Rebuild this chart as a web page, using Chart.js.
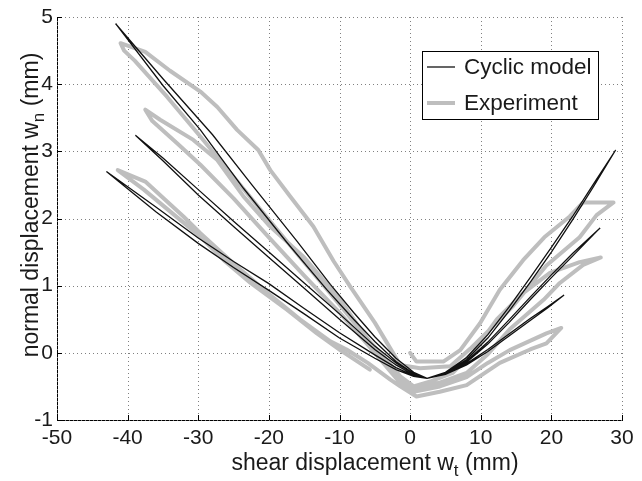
<!DOCTYPE html>
<html>
<head>
<meta charset="utf-8">
<script src="https://cdn.jsdelivr.net/npm/chart.js@4.4.1/dist/chart.umd.min.js"></script>
<style>
  html, body { margin: 0; padding: 0; background: #fff; }
  #wrap { width: 642px; height: 481px; }
</style>
</head>
<body>
<div id="wrap"><canvas id="c"></canvas></div>
<script>
// axis ticks
const xTicks = [-50, -40, -30, -20, -10, 0, 10, 20, 30];
const yTicks = [-1, 0, 1, 2, 3, 4, 5];

// cyclic model: shear wt / normal wn (mm), traced branch by branch
const modelWt = [
  2.4, 0.5, -2, -5, -10, -15, -20, -25, -30, -36, -43,
  -36, -30, -25, -20, -15, -10, -5, -2, 0.5, 2.4,
  5, 8, 11, 14, 17, 19.5, 21.8,
  19.5, 17, 14, 11, 8, 5, 2.4,
  0.5, -2, -5, -10, -15, -20, -25, -30, -35, -38.9,
  -35, -30, -25, -20, -15, -10, -5, -2, 0.5, 2.4,
  5, 8, 11, 14, 17, 20, 23, 26.9,
  23, 20, 17, 14, 11, 8, 5, 2.4,
  0.5, -2, -5, -8, -11.8, -17.5, -23.6, -29.7, -35, -41.7,
  -35, -28, -22.4, -16, -11.3, -8, -5, -2, 0.5, 2.4,
  5, 8, 11, 14, 17, 20, 23, 26, 29.1,
  26, 23, 20, 17, 14, 11, 8, 5, 2.4
];
const modelWn = [
  -0.38, -0.35, -0.25, -0.08, 0.22, 0.58, 0.93, 1.27, 1.63, 2.1, 2.7,
  2.17, 1.71, 1.36, 1.03, 0.66, 0.3, -0.03, -0.22, -0.34, -0.38,
  -0.31, -0.16, 0.05, 0.28, 0.51, 0.69, 0.86,
  0.67, 0.48, 0.25, 0.02, -0.18, -0.32, -0.38,
  -0.33, -0.18, 0.05, 0.5, 0.96, 1.42, 1.88, 2.35, 2.86, 3.24,
  2.9, 2.43, 1.96, 1.5, 1.04, 0.58, 0.1, -0.15, -0.31, -0.38,
  -0.3, -0.12, 0.16, 0.49, 0.83, 1.16, 1.48, 1.86,
  1.44, 1.12, 0.79, 0.45, 0.13, -0.14, -0.31, -0.38,
  -0.31, -0.13, 0.17, 0.5, 0.94, 1.65, 2.45, 3.32, 3.98, 4.9,
  4.08, 3.25, 2.5, 1.66, 1.02, 0.6, 0.24, -0.08, -0.29, -0.38,
  -0.29, -0.07, 0.27, 0.68, 1.12, 1.57, 2.03, 2.52, 3.02,
  2.48, 1.98, 1.5, 1.05, 0.62, 0.22, -0.1, -0.3, -0.38
];

// experiment: shear wt / normal wn (mm)
const expWt = [
  0, 0.9, 4.7, 7.1, 9.9, 12.7, 16, 19, 22.6, 24.5, 28.8,
  26.4, 24, 19.3, 14.6, 11.3, 8.5, 5.7, 1.4, -1.4,
  -3, -5, -8.5, -10.8, -13.7, -17, -19.8, -21.5, -24.5, -27.3, -29.7, -34, -37.5, -41,
  -40.5, -39, -34.4, -29.7, -25, -20, -15, -10, -6, -3, -1.4, 0.5,
  3, 6, 9, 12.3, 16, 19.8, 24, 27,
  24.5, 21.2, 18.9, 14.1, 11, 8, 4, 0.5, -1.4,
  -4, -7, -9.9, -15, -20, -23.6, -27.3, -30.7, -35.4, -37.5,
  -36.5, -33, -29.7, -25, -20, -15, -10, -6, -3, -1.4, 0.5,
  4.2, 8, 11, 14.1, 19.3, 21.4,
  19.3, 17, 12.7, 8, 4.2, 0.9, -1.4,
  -2.8, -6, -9, -11.3, -15.6, -20.3, -25, -29.7, -32.1, -37.5, -41.4,
  -37.7, -29.7, -26.4, -22.6, -17.4, -13.2, -9.9, -5.7
];
const expWn = [
  0, -0.13, -0.13, 0.04, 0.44, 0.94, 1.38, 1.72, 2.03, 2.24, 2.24,
  2.05, 1.72, 1.3, 0.7, 0.35, 0.06, -0.2, -0.23, -0.18,
  0.1, 0.45, 0.99, 1.36, 1.88, 2.33, 2.72, 3.02, 3.32, 3.66, 3.89, 4.2, 4.48, 4.61,
  4.5, 4.35, 3.81, 3.22, 2.62, 1.98, 1.35, 0.72, 0.2, -0.15, -0.35, -0.5,
  -0.42, -0.3, 0.02, 0.5, 0.89, 1.19, 1.35, 1.42,
  1.31, 1.04, 0.79, 0.35, -0.02, -0.3, -0.45, -0.53, -0.4,
  -0.08, 0.35, 0.79, 1.42, 1.9, 2.33, 2.87, 3.17, 3.47, 3.62,
  3.45, 3.12, 2.8, 2.3, 1.72, 1.15, 0.6, 0.12, -0.25, -0.45, -0.58,
  -0.5, -0.36, -0.15, 0.04, 0.29, 0.37,
  0.14, 0.05, -0.15, -0.48, -0.58, -0.65, -0.5,
  -0.4, -0.15, 0.05, 0.17, 0.5, 0.9, 1.33, 1.78, 2.03, 2.55, 2.72,
  2.43, 1.73, 1.38, 1.04, 0.64, 0.29, 0.04, -0.25
];

const FONT = '"Liberation Sans", Arial, Helvetica, sans-serif';
const toPts = (xs, ys) => xs.map((x, i) => ({ x: x, y: ys[i] }));

// dotted grid, drawn under the data
const dotGrid = {
  id: 'dotGrid',
  beforeDatasetsDraw(chart) {
    const { ctx, chartArea: a, scales } = chart;
    ctx.save();
    ctx.strokeStyle = '#808080';
    ctx.lineWidth = 1;
    ctx.setLineDash([1, 3]);
    ctx.beginPath();
    xTicks.forEach(v => {
      const px = Math.round(scales.x.getPixelForValue(v)) + 0.5;
      ctx.moveTo(px, a.top); ctx.lineTo(px, a.bottom);
    });
    yTicks.forEach(v => {
      const py = Math.round(scales.y.getPixelForValue(v)) + 0.5;
      ctx.moveTo(a.left, py); ctx.lineTo(a.right, py);
    });
    ctx.stroke();
    ctx.restore();
  }
};

// inward tick marks (matlab style)
const innerTicks = {
  id: 'innerTicks',
  afterDatasetsDraw(chart) {
    const { ctx, chartArea: a, scales } = chart;
    ctx.save();
    ctx.strokeStyle = '#000';
    ctx.lineWidth = 1;
    ctx.beginPath();
    xTicks.forEach(v => {
      const px = Math.round(scales.x.getPixelForValue(v)) + 0.5;
      ctx.moveTo(px, a.bottom); ctx.lineTo(px, a.bottom - 5);
    });
    yTicks.forEach(v => {
      const py = Math.round(scales.y.getPixelForValue(v)) + 0.5;
      ctx.moveTo(a.left, py); ctx.lineTo(a.left + 5, py);
    });
    ctx.stroke();
    ctx.restore();
  }
};

// axis titles with subscripts
function drawSubTitle(ctx, main, sub, tail, size) {
  ctx.font = size + 'px ' + FONT;
  const w1 = ctx.measureText(main).width;
  const w3 = ctx.measureText(tail).width;
  ctx.font = Math.round(size * 0.72) + 'px ' + FONT;
  const w2 = ctx.measureText(sub).width;
  let x = -(w1 + w2 + w3) / 2;
  ctx.font = size + 'px ' + FONT;
  ctx.fillText(main, x, 0);
  x += w1;
  ctx.font = Math.round(size * 0.72) + 'px ' + FONT;
  ctx.fillText(sub, x, size * 0.28);
  x += w2;
  ctx.font = size + 'px ' + FONT;
  ctx.fillText(tail, x, 0);
}

const axisTitles = {
  id: 'axisTitles',
  afterDraw(chart) {
    const ctx = chart.ctx;
    ctx.save();
    ctx.fillStyle = '#1a1a1a';
    ctx.textAlign = 'left';
    ctx.textBaseline = 'alphabetic';
    ctx.translate(375, 470);
    drawSubTitle(ctx, 'shear displacement w', 't', ' (mm)', 23);
    ctx.restore();

    ctx.save();
    ctx.fillStyle = '#1a1a1a';
    ctx.textAlign = 'left';
    ctx.textBaseline = 'alphabetic';
    ctx.translate(38, 205);
    ctx.rotate(-Math.PI / 2);
    drawSubTitle(ctx, 'normal displacement w', 'n', ' (mm)', 23);
    ctx.restore();
  }
};

// legend box inside the plot
const boxLegend = {
  id: 'boxLegend',
  afterDraw(chart) {
    const ctx = chart.ctx;
    const ds = chart.data.datasets;
    ctx.save();
    ctx.fillStyle = '#fff';
    ctx.fillRect(422.5, 51.5, 176, 68);
    ctx.strokeStyle = '#000';
    ctx.lineWidth = 1;
    ctx.strokeRect(422.5, 51.5, 176, 68);
    const rows = [67, 103];
    ds.forEach((d, i) => {
      ctx.strokeStyle = d.borderColor;
      ctx.lineWidth = d.borderWidth;
      ctx.beginPath();
      ctx.moveTo(427, rows[i]); ctx.lineTo(455, rows[i]);
      ctx.stroke();
      ctx.fillStyle = '#1a1a1a';
      ctx.font = '22.5px ' + FONT;
      ctx.textBaseline = 'middle';
      ctx.fillText(d.label, 464, rows[i] + 1);
    });
    ctx.restore();
  }
};

new Chart(document.getElementById('c'), {
  type: 'scatter',
  data: {
    datasets: [
      {
        label: 'Cyclic model',
        data: toPts(modelWt, modelWn),
        showLine: true,
        borderColor: '#111',
        borderWidth: 1.3,
        pointRadius: 0,
        tension: 0,
        order: 0
      },
      {
        label: 'Experiment',
        data: toPts(expWt, expWn),
        showLine: true,
        borderColor: '#bebebe',
        borderWidth: 4,
        borderJoinStyle: 'round',
        borderCapStyle: 'round',
        pointRadius: 0,
        tension: 0,
        order: 1
      }
    ]
  },
  options: {
    responsive: true,
    maintainAspectRatio: false,
    animation: false,
    events: [],
    layout: { padding: { left: 0, top: 17, right: 20, bottom: 0 } },
    plugins: {
      legend: { display: false },
      tooltip: { enabled: false }
    },
    scales: {
      x: {
        type: 'linear',
        min: -50, max: 30,
        afterBuildTicks: s => { s.ticks = xTicks.map(v => ({ value: v })); },
        afterFit: s => { s.height = 61; },
        grid: { drawOnChartArea: false, drawTicks: false },
        border: { display: true, color: '#000', width: 1 },
        ticks: { color: '#1a1a1a', font: { family: FONT, size: 21 }, padding: 6, maxRotation: 0 }
      },
      y: {
        type: 'linear',
        min: -1, max: 5,
        afterBuildTicks: s => { s.ticks = yTicks.map(v => ({ value: v })); },
        afterFit: s => { s.width = 57; },
        grid: { drawOnChartArea: false, drawTicks: false },
        border: { display: true, color: '#000', width: 1 },
        ticks: { color: '#1a1a1a', font: { family: FONT, size: 21 }, padding: 4 }
      }
    }
  },
  plugins: [dotGrid, innerTicks, axisTitles, boxLegend]
});
</script>
</body>
</html>
